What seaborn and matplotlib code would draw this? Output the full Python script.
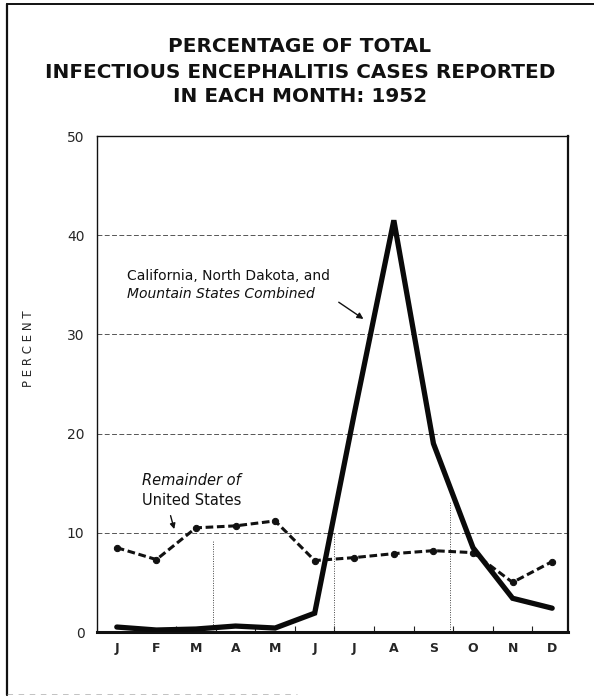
import matplotlib
matplotlib.use("Agg")
import matplotlib.pyplot as plt
from matplotlib.lines import Line2D
import seaborn as sns
import pandas as pd

months = ["J", "F", "M", "A", "M", "J", "J", "A", "S", "O", "N", "D"]
west_states = [0.5, 0.2, 0.3, 0.6, 0.4, 1.9, 22.0, 41.5, 19.0, 8.5, 3.4, 2.4]
remainder_us = [8.5, 7.3, 10.5, 10.7, 11.2, 7.2, 7.5, 7.9, 8.2, 8.0, 5.0, 7.1]
y_ticks = [0, 10, 20, 30, 40, 50]

sns.set_theme(style="white")
plt.rcParams["font.family"] = ["DejaVu Sans"]

W, H = 594, 697
fig = plt.figure(figsize=(W / 100, H / 100), dpi=100)
ax = fig.add_axes([97 / W, 1 - 632 / H, (568 - 97) / W, (632 - 136) / H])

idx = list(range(len(months)))
df_w = pd.DataFrame({"m": idx, "v": west_states})
df_r = pd.DataFrame({"m": idx, "v": remainder_us})

# gridlines
for yv in y_ticks[1:-1]:
    ax.axhline(yv, color="#555555", lw=0.7, ls=(0, (5, 2.5)), zorder=1)
# faint vertical dotted season lines
for xv, ytop in [(2.42, 9.3), (5.5, 10.0), (8.41, 13.2)]:
    ax.plot([xv, xv], [0, ytop], color="#444444", lw=0.7, ls=(0, (1, 1.5)), zorder=1)

sns.lineplot(data=df_r, x="m", y="v", ax=ax, color="#111111", lw=2.2,
             linestyle=(0, (2.5, 1.2)), marker="o", markersize=4.5,
             markeredgecolor="#111111", zorder=3)
sns.lineplot(data=df_w, x="m", y="v", ax=ax, color="#0a0a0a", lw=3.8,
             zorder=4, solid_joinstyle="miter")

ax.set_xlim(-0.5, 11.4)
ax.set_ylim(0, 50)
ax.set_xticks(idx)
ax.set_xticklabels(months, fontsize=9, fontweight="bold")
ax.set_xticks([i + 0.5 for i in range(11)], minor=True)
ax.set_yticks(y_ticks)
ax.set_yticklabels([str(v) for v in y_ticks], fontsize=10)
ax.tick_params(axis="x", which="major", length=0, pad=7)
ax.tick_params(axis="x", which="minor", direction="in", length=4, width=0.8,
               color="#222222", bottom=True)
ax.tick_params(axis="y", length=0, pad=9)
ax.set_xlabel("")
ax.set_ylabel("P E R C E N T", fontsize=8.5)
ax.yaxis.set_label_coords((35 - 97) / 471, (632 - 349) / 496)

for side, lw in [("left", 1.0), ("top", 1.0), ("right", 1.6), ("bottom", 2.2)]:
    ax.spines[side].set_visible(True)
    ax.spines[side].set_color("#111111")
    ax.spines[side].set_linewidth(lw)

# annotations
ax.text(0.25, 35.9, "California, North Dakota, and", fontsize=10,
        ha="left", va="center", color="#111111")
ax.text(0.25, 34.1, "Mountain States Combined", fontsize=10, style="italic",
        ha="left", va="center", color="#111111")
ax.annotate("", xy=(6.29, 31.4), xytext=(5.55, 33.4),
            arrowprops=dict(arrowstyle="-|>", color="#111111", lw=1.0,
                            mutation_scale=9))
ax.text(1.89, 15.25, "Remainder of", fontsize=10.5, style="italic",
        ha="center", va="center", color="#111111")
ax.text(1.89, 13.3, "United States", fontsize=10.5,
        ha="center", va="center", color="#111111")
ax.annotate("", xy=(1.47, 10.1), xytext=(1.34, 12.0),
            arrowprops=dict(arrowstyle="-|>", color="#111111", lw=1.0,
                            mutation_scale=8))

# title
fig.text(0.505, 1 - 72 / H,
         "PERCENTAGE OF TOTAL\nINFECTIOUS ENCEPHALITIS CASES REPORTED\nIN EACH MONTH: 1952",
         ha="center", va="center", fontsize=14.4, fontweight="bold",
         linespacing=1.4, color="#111111")

# page border
fig.add_artist(Line2D([7 / W, 7 / W], [1 - 4 / H, 1 - 695 / H],
                      transform=fig.transFigure, color="#111111", lw=1.6))
fig.add_artist(Line2D([7 / W, 1.0], [1 - 4 / H, 1 - 4 / H],
                      transform=fig.transFigure, color="#111111", lw=1.4))
fig.add_artist(Line2D([7 / W, 0.5], [1 - 694 / H, 1 - 694 / H],
                      transform=fig.transFigure, color="#aaaaaa", lw=0.5,
                      ls=(0, (8, 8))))

fig.savefig("out.png", dpi=100, facecolor="white")
